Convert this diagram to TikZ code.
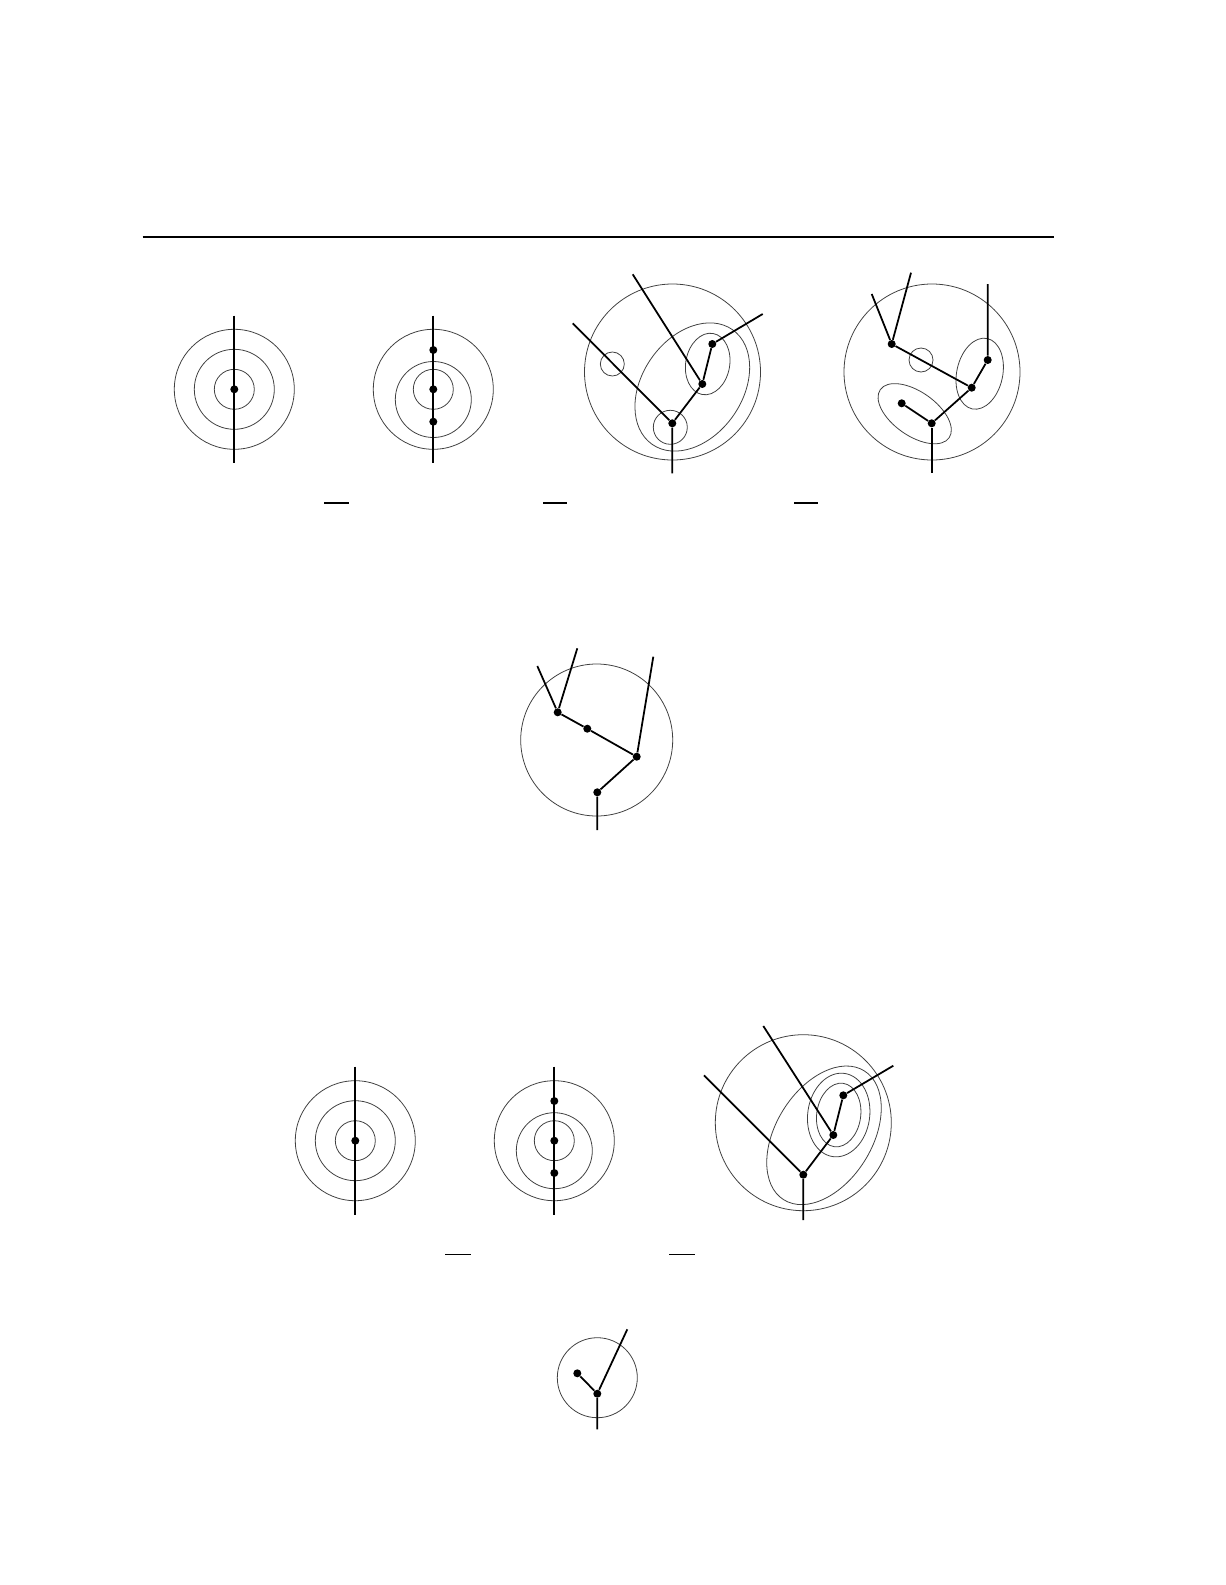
\documentclass[tikz,border=0pt]{standalone}
\begin{document}
\begin{tikzpicture}[x=0.02cm,y=-0.02cm,
  ring/.style={black!75,line width=0.45pt},
  edge/.style={black,line width=1pt},
  dot/.style={circle,fill=black,inner sep=0pt,minimum size=0.16cm}]
\useasboundingbox (0,0) rectangle (1225,1585);
\draw[line width=1.1pt] (142.7,236.7) -- (1053.5,236.7);
% first row
\coordinate (c1) at (234.3,389.3);
\draw[ring] (c1) circle[radius=60] (c1) circle[radius=40] (c1) circle[radius=20];
\coordinate (c1t) at (234.3,315.7);
\coordinate (c1b) at (234.3,463.3);
\draw[edge] (c1t) -- (c1b);
\node[dot] (a1) at (c1) {};
\coordinate (c2) at (433.3,389.3);
\draw[ring] (c2) circle[radius=60] (433.3,399.5) circle[radius=38] (c2) circle[radius=20];
\coordinate (c2t) at (433.3,315.7);
\coordinate (c2b) at (433.3,463.3);
\draw[edge] (c2t) -- (c2b);
\node[dot] (a2) at (433.3,350) {};
\node[dot] (b2) at (c2) {};
\node[dot] (d2) at (433.3,421.7) {};
\coordinate (c3) at (672.5,372);
\draw[ring] (c3) circle[radius=88] (612.3,364) circle[radius=12] (670.3,427.3) circle[radius=17];
\draw[ring,rotate around={55:(692.3,387)}] (692.3,387) ellipse[x radius=70,y radius=50];
\draw[ring,rotate around={-10:(707.7,364)}] (707.7,364) ellipse[x radius=22,y radius=31];
\node[dot] (d3) at (672.3,423.3) {};
\node[dot] (m3) at (702.3,384) {};
\node[dot] (t3) at (712.3,344) {};
\coordinate (e3a) at (672.3,473.3);
\coordinate (e3b) at (572.7,323.3);
\coordinate (e3c) at (632.7,274.3);
\coordinate (e3d) at (762.7,314);
\draw[edge] (e3a) -- (d3) -- (m3) -- (t3) -- (e3d);
\draw[edge] (d3) -- (e3b);
\draw[edge] (m3) -- (e3c);
\coordinate (c4) at (932,372);
\draw[ring] (c4) circle[radius=88] (921,360) circle[radius=12];
\draw[ring,rotate around={-12:(979.7,373.7)}] (979.7,373.7) ellipse[x radius=23,y radius=36];
\draw[ring,rotate around={-35:(914.7,413.7)}] (914.7,413.7) ellipse[x radius=42,y radius=22];
\node[dot] (a4) at (891.7,344) {};
\node[dot] (b4) at (971.7,387.7) {};
\node[dot] (t4) at (987.7,360) {};
\node[dot] (d4) at (931.7,423.3) {};
\node[dot] (l4) at (901.7,403.3) {};
\coordinate (e4a) at (871.7,294);
\coordinate (e4b) at (911,272.7);
\coordinate (e4c) at (987.7,284);
\coordinate (e4d) at (931.7,473.3);
\draw[edge] (e4a) -- (a4) -- (e4b);
\draw[edge] (a4) -- (b4) -- (t4) -- (e4c);
\draw[edge] (b4) -- (d4) -- (l4);
\draw[edge] (d4) -- (e4d);
\draw[line width=0.8pt] (324,503) -- (349,503) (543.4,503) -- (566.7,503) (794.4,503) -- (817.7,503);
% middle
\coordinate (c5) at (596.7,740);
\draw[ring] (c5) circle[radius=76];
\node[dot] (a5) at (557.7,712.3) {};
\node[dot] (m5) at (587.3,728.7) {};
\node[dot] (b5) at (636.7,756.7) {};
\node[dot] (d5) at (597.3,792.3) {};
\coordinate (e5a) at (537.3,666);
\coordinate (e5b) at (577.3,648.3);
\coordinate (e5c) at (653.3,656.7);
\coordinate (e5d) at (597.3,830);
\draw[edge] (e5a) -- (a5) -- (e5b);
\draw[edge] (a5) -- (m5) -- (b5) -- (e5c);
\draw[edge] (b5) -- (d5) -- (e5d);
% second row
\coordinate (c6) at (355.3,1140.7);
\draw[ring] (c6) circle[radius=60] (c6) circle[radius=40] (c6) circle[radius=20];
\coordinate (c6t) at (355.3,1066.7);
\coordinate (c6b) at (355.3,1215);
\draw[edge] (c6t) -- (c6b);
\node[dot] (a6) at (c6) {};
\coordinate (c7) at (554.3,1140.7);
\draw[ring] (c7) circle[radius=60] (554.3,1150.7) circle[radius=38] (c7) circle[radius=20];
\coordinate (c7t) at (554.3,1066.7);
\coordinate (c7b) at (554.3,1215);
\draw[edge] (c7t) -- (c7b);
\node[dot] (a7) at (554.3,1101) {};
\node[dot] (b7) at (c7) {};
\node[dot] (d7) at (554.3,1173) {};
\coordinate (c8) at (803.3,1122.7);
\draw[ring] (c8) circle[radius=88];
\draw[ring,rotate around={58:(824,1135.3)}] (824,1135.3) ellipse[x radius=76,y radius=48];
\draw[ring,rotate around={-8:(838.7,1115)}] (838.7,1115) ellipse[x radius=22,y radius=32] (838.7,1115) ellipse[x radius=31,y radius=42];
\node[dot] (d8) at (803.3,1174.7) {};
\node[dot] (m8) at (833.3,1135) {};
\node[dot] (t8) at (843.3,1095.3) {};
\coordinate (e8a) at (803.3,1220);
\coordinate (e8b) at (704,1075.3);
\coordinate (e8c) at (763.3,1026);
\coordinate (e8d) at (893.3,1065.7);
\draw[edge] (e8a) -- (d8) -- (m8) -- (t8) -- (e8d);
\draw[edge] (d8) -- (e8b);
\draw[edge] (m8) -- (e8c);
\draw[line width=0.8pt] (445,1254.3) -- (471,1254.3) (669.3,1254.3) -- (695,1254.3);
% bottom
\coordinate (c9) at (597.3,1377.7);
\draw[ring] (c9) circle[radius=40];
\node[dot] (d9) at (597.3,1393.7) {};
\node[dot] (l9) at (577.3,1373.3) {};
\coordinate (e9a) at (597.3,1429.3);
\coordinate (e9b) at (627.3,1329.3);
\draw[edge] (l9) -- (d9) -- (e9a);
\draw[edge] (d9) -- (e9b);
\end{tikzpicture}
\end{document}
